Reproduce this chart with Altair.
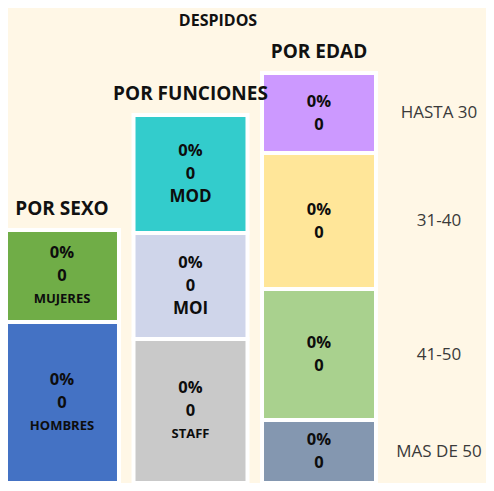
import altair as alt
import pandas as pd

# ---- data (bottom to top within each column) ----
columns = ["POR SEXO", "POR FUNCIONES", "POR EDAD"]

sexo_labels = ["HOMBRES", "MUJERES"]
sexo_heights = [161, 92]
sexo_pct = ["0%", "0%"]
sexo_count = [0, 0]

func_labels = ["STAFF", "MOI", "MOD"]
func_heights = [144, 106, 118]
func_pct = ["0%", "0%", "0%"]
func_count = [0, 0, 0]

edad_labels = ["MAS DE 50", "41-50", "31-40", "HASTA 30"]
edad_heights = [63, 131, 136, 80]
edad_pct = ["0%", "0%", "0%", "0%"]
edad_count = [0, 0, 0, 0]

# ---- styles ----
seg_colors = {
    "HOMBRES": "#4472C4", "MUJERES": "#70AD47",
    "STAFF": "#C9C9C9", "MOI": "#CFD5EA", "MOD": "#33CCCC",
    "MAS DE 50": "#8497B0", "41-50": "#A9D18E", "31-40": "#FFE699", "HASTA 30": "#CC99FF",
}
name_sizes = {"MOD": 17, "MOI": 17}
NUM_SIZE = 16.5
NAME_SIZE = 13
BG = "#FFF7E6"
FONT = "Open Sans"
LINE_STEP = 23
H = 445
W = 478

groups = [
    ("POR SEXO", sexo_labels, sexo_heights, sexo_pct, sexo_count, True),
    ("POR FUNCIONES", func_labels, func_heights, func_pct, func_count, True),
    ("POR EDAD", edad_labels, edad_heights, edad_pct, edad_count, False),
]

seg_rows, line_rows, side_rows, title_rows = [], [], [], []
for col, labels, heights, pcts, counts, inside in groups:
    base = 0
    for lab, h, p, c in zip(labels, heights, pcts, counts):
        y0, y1 = base, base + h
        base = y1
        seg_rows.append({"col": col, "label": lab, "y0": y0, "y1": y1, "color": seg_colors[lab]})
        lines = [(p, NUM_SIZE), (str(c), NUM_SIZE)]
        if inside:
            lines.append((lab, name_sizes.get(lab, NAME_SIZE)))
        n = len(lines)
        center = (y0 + y1) / 2
        for i, (t, fs) in enumerate(lines):
            line_rows.append({"col": col, "text": t, "fs": fs,
                              "y": center + ((n - 1) / 2 - i) * LINE_STEP})
        if not inside:
            side_rows.append({"col": col, "text": lab, "y": center})
    title_rows.append({"col": col, "text": col, "y": base})

seg_df = pd.DataFrame(seg_rows)
line_df = pd.DataFrame(line_rows)
side_df = pd.DataFrame(side_rows)
title_df = pd.DataFrame(title_rows)

x_scale = alt.Scale(domain=columns, range=[-3, 368], paddingInner=0.113, paddingOuter=0)
y_scale = alt.Scale(domain=[0, H], nice=False, zero=False)

x_enc = alt.X("col:N", scale=x_scale, axis=None, sort=columns)

rects = alt.Chart(seg_df).mark_rect(stroke="white", strokeWidth=4).encode(
    x=x_enc,
    y=alt.Y("y0:Q", scale=y_scale, axis=None),
    y2="y1:Q",
    color=alt.Color("color:N", scale=None),
)

texts = alt.Chart(line_df).mark_text(font=FONT, fontWeight="bold", color="#0D0D0D",
                                     baseline="middle", align="center").encode(
    x=x_enc,
    y=alt.Y("y:Q", scale=y_scale, axis=None),
    text="text:N",
    size=alt.Size("fs:Q", scale=None, legend=None),
)

side = alt.Chart(side_df).mark_text(font=FONT, fontSize=17, color="#3A3A3A",
                                    baseline="middle", align="center", dx=120).encode(
    x=x_enc,
    y=alt.Y("y:Q", scale=y_scale, axis=None),
    text="text:N",
)

titles = alt.Chart(title_df).mark_text(font=FONT, fontSize=19, fontWeight="bold", color="#111111",
                                       baseline="middle", align="center", dy=-21).encode(
    x=x_enc,
    y=alt.Y("y:Q", scale=y_scale, axis=None),
    text="text:N",
)

chart = alt.layer(rects, texts, side, titles).properties(
    width=W,
    height=H,
    padding={"top": 30, "left": 0, "right": 0, "bottom": 0},
    autosize=alt.AutoSizeParams(type="none"),
    background=BG,
    title=alt.Title("DESPIDOS", font=FONT, fontSize=16, fontWeight="bold", color="#111111",
                    anchor="middle", dx=-29, offset=9),
).configure_view(stroke=None)

chart.save("out.html", embed_options={"renderer": "svg", "actions": False})
